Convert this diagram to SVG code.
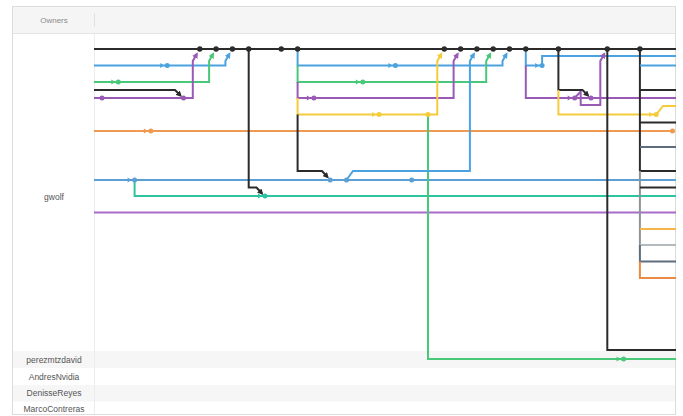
<svg xmlns="http://www.w3.org/2000/svg" width="683" height="416" viewBox="0 0 683 416">
<style>
text{font-family:"Liberation Sans",Arial,sans-serif}
.hdr{font-size:8px;fill:#8a8a8a;text-anchor:middle}
.own{font-size:8.5px;fill:#555;text-anchor:middle}
.tick{font-size:9px;fill:#777;text-anchor:middle}
.tk{stroke:#d0d0d0;stroke-width:1}
.e{fill:none;stroke-width:2;stroke-linejoin:miter}
.k{stroke:#2b2b2b}.b{stroke:#4aa3df}.b2{stroke:#5b9fd4}.g{stroke:#48c878}.p{stroke:#9b59b6}.y{stroke:#f4cb3a}.o{stroke:#ef9a50}.t{stroke:#2dc4a2}.p2{stroke:#a86cc8}
.sl{stroke:#5d6d7e}.lg{stroke:#b3babd}.mg{stroke:#8d9497}.oy{stroke:#f5b548}.or{stroke:#e98a45}
.fk{fill:#2b2b2b}.fb{fill:#4aa3df}.fb2{fill:#5b9fd4}.fg{fill:#48c878}.fp{fill:#9b59b6}.fy{fill:#f4cb3a}.fo{fill:#ef9a50}.ft{fill:#2dc4a2}
</style>
<defs>
<clipPath id="area"><rect x="94" y="33" width="582" height="382"/></clipPath>
<clipPath id="axis"><rect x="94" y="6" width="582" height="27"/></clipPath>
<marker id="mk" markerUnits="userSpaceOnUse" markerWidth="6" markerHeight="6" refX="4" refY="3" orient="auto"><path d="M0,0L6,3L0,6z" fill="#2b2b2b"/></marker>
<marker id="mb" markerUnits="userSpaceOnUse" markerWidth="6" markerHeight="6" refX="4" refY="3" orient="auto"><path d="M0,0L6,3L0,6z" fill="#4aa3df"/></marker>
<marker id="mg" markerUnits="userSpaceOnUse" markerWidth="6" markerHeight="6" refX="4" refY="3" orient="auto"><path d="M0,0L6,3L0,6z" fill="#48c878"/></marker>
<marker id="mp" markerUnits="userSpaceOnUse" markerWidth="6" markerHeight="6" refX="4" refY="3" orient="auto"><path d="M0,0L6,3L0,6z" fill="#9b59b6"/></marker>
<marker id="my" markerUnits="userSpaceOnUse" markerWidth="6" markerHeight="6" refX="4" refY="3" orient="auto"><path d="M0,0L6,3L0,6z" fill="#f4cb3a"/></marker>
<path id="ah" d="M-7,-2.6L-3,0L-7,2.6z"/>
</defs>

<g id="table">
<rect x="12.5" y="6.5" width="663" height="408" fill="#fff" stroke="#dcdcdc"/>
<rect x="13" y="7" width="662" height="26" fill="#f5f5f5"/>
<line x1="13" y1="33.5" x2="675" y2="33.5" stroke="#e4e4e4"/>
<line x1="94.5" y1="13" x2="94.5" y2="27" stroke="#e2e2e2"/>
<rect x="13" y="351" width="662" height="17" fill="#f6f6f6"/>
<rect x="13" y="385" width="662" height="16.5" fill="#f6f6f6"/>
<line x1="94.5" y1="34" x2="94.5" y2="414" stroke="#ececec"/>
<text class="hdr" x="54" y="22.5">Owners</text>
</g>

<g id="owners">
<text class="own" x="54" y="200">gwolf</text>
<text class="own" x="54" y="362.5">perezmtzdavid</text>
<text class="own" x="54" y="379.5">AndresNvidia</text>
<text class="own" x="54" y="396">DenisseReyes</text>
<text class="own" x="54" y="412">MarcoContreras</text>
</g>

<g id="axis-labels" clip-path="url(#axis)">
<line class="tk" x1="150.9" y1="34" x2="150.9" y2="38"/><text class="tick" x="150.9" y="46.5">5</text>
<line class="tk" x1="183.5" y1="34" x2="183.5" y2="38"/><text class="tick" x="183.5" y="46.5">6</text>
<line class="tk" x1="199.8" y1="34" x2="199.8" y2="38"/><text class="tick" x="199.8" y="46.5">7</text>
<line class="tk" x1="248.7" y1="34" x2="248.7" y2="38"/><text class="tick" x="248.7" y="46.5">8</text>
<line class="tk" x1="313.9" y1="34" x2="313.9" y2="38"/><text class="tick" x="313.9" y="46.5">10</text>
<line class="tk" x1="362.8" y1="34" x2="362.8" y2="38"/><text class="tick" x="362.8" y="46.5">12</text>
<line class="tk" x1="379.1" y1="34" x2="379.1" y2="38"/><text class="tick" x="379.1" y="46.5">13</text>
<line class="tk" x1="395.4" y1="34" x2="395.4" y2="38"/><text class="tick" x="395.4" y="46.5">14</text>
<line class="tk" x1="428" y1="34" x2="428" y2="38"/><text class="tick" x="428" y="46.5">15</text>
<line class="tk" x1="574.7" y1="34" x2="574.7" y2="38"/><text class="tick" x="574.7" y="46.5">16</text>
<line class="tk" x1="607.3" y1="34" x2="607.3" y2="38"/><text class="tick" x="607.3" y="46.5">17</text>
<line class="tk" x1="672.5" y1="34" x2="672.5" y2="38"/><text class="tick" x="672.5" y="46.5">18</text>
</g>

<g id="connectors" clip-path="url(#area)">
<path class="e k" d="M94 49H676"/>
<path class="e b" d="M94 65.5H225.4V61L229.4 54" marker-end="url(#mb)"/>
<path class="e g" d="M94 82H209.1V61L213.1 54" marker-end="url(#mg)"/>
<path class="e k" d="M94 90H175L180.5 95.5" marker-end="url(#mk)"/>
<path class="e p" d="M94 98H192.8V61L196.8 54" marker-end="url(#mp)"/>
<path class="e o" d="M94 131H672.5"/>
<path class="e b2" d="M94 180H676"/>
<path class="e t" d="M134.6 180V196H676"/>
<path class="e k" d="M248.7 49V187.5H256.5L262 193.5" marker-end="url(#mk)"/>
<path class="e p2" d="M94 212.5H676"/>
<path class="e b" d="M297.6 49V65.5H502.5V61L506.5 54" marker-end="url(#mb)"/>
<path class="e g" d="M297.6 65.5V82H486.2V61L490.2 54" marker-end="url(#mg)"/>
<path class="e p" d="M297.6 82V98H453.6V61L457.6 54" marker-end="url(#mp)"/>
<path class="e y" d="M297.6 98V114.5H437.3V61L441.3 54" marker-end="url(#my)"/>
<path class="e k" d="M297.6 114.5V171H322L327.5 177" marker-end="url(#mk)"/>
<path class="e g" d="M428 114.5V359H676"/>
<path class="e b" d="M346.5 180L353 171H469.9V61L473.9 54" marker-end="url(#mb)"/>
<path class="e b" d="M525.8 49V65.5H542.1V56H676"/>
<path class="e p" d="M525.8 65.5V98H676"/>
<path class="e p" d="M574.7 98L580.7 91.5V105H600.3V61L604.3 54" marker-end="url(#mp)"/>
<path class="e k" d="M558.4 49V90H582.5L588 95.5" marker-end="url(#mk)"/>
<path class="e y" d="M558.4 90V114.5H656.2L663 106H676"/>
<path class="e k" d="M607.3 49V350H676"/>
<path class="e k" d="M639.9 49V171"/>
<path class="e b" d="M639.9 65.5H676"/>
<path class="e k" d="M639.9 90H676"/>
<path class="e k" d="M639.9 122.5H676"/>
<path class="e sl" d="M639.9 147H676"/>
<path class="e k" d="M639.9 171H676"/>
<path class="e mg" d="M639.9 171V245"/>
<path class="e k" d="M639.9 187.5H676"/>
<path class="e oy" d="M639.9 229H676"/>
<path class="e lg" d="M639.9 245H676"/>
<path class="e sl" d="M639.9 245V261.5H676"/>
<path class="e or" d="M639.9 261.5V278H676"/>
<use href="#ah" class="fb" x="167.2" y="65.5"/>
<use href="#ah" class="fg" x="118.3" y="82"/>
<use href="#ah" class="fo" x="150.9" y="131"/>
<use href="#ah" class="fb2" x="134.6" y="180"/>
<use href="#ah" class="ft" x="265" y="196"/>
<use href="#ah" class="fb" x="395.4" y="65.5"/>
<use href="#ah" class="fg" x="362.8" y="82"/>
<use href="#ah" class="fp" x="313.9" y="98"/>
<use href="#ah" class="fy" x="379.1" y="114.5"/>
<use href="#ah" class="fb" x="542.1" y="65.5"/>
<use href="#ah" class="fp" x="574.7" y="98"/>
<use href="#ah" class="fy" x="656.2" y="114.5"/>
<use href="#ah" class="fg" x="623.6" y="359"/>
</g>

<g id="commits" clip-path="url(#area)">
<g id="c-main-6"><circle class="fk" cx="199.8" cy="49" r="2.7"/></g>
<g id="c-main-7"><circle class="fk" cx="216.1" cy="49" r="2.7"/></g>
<g id="c-main-8"><circle class="fk" cx="232.4" cy="49" r="2.7"/></g>
<g id="c-main-9"><circle class="fk" cx="248.7" cy="49" r="2.7"/></g>
<g id="c-main-11"><circle class="fk" cx="281.3" cy="49" r="2.7"/></g>
<g id="c-main-12"><circle class="fk" cx="297.6" cy="49" r="2.7"/></g>
<g id="c-main-21"><circle class="fk" cx="444.3" cy="49" r="2.7"/></g>
<g id="c-main-22"><circle class="fk" cx="460.6" cy="49" r="2.7"/></g>
<g id="c-main-23"><circle class="fk" cx="476.9" cy="49" r="2.7"/></g>
<g id="c-main-24"><circle class="fk" cx="493.2" cy="49" r="2.7"/></g>
<g id="c-main-25"><circle class="fk" cx="509.5" cy="49" r="2.7"/></g>
<g id="c-main-26"><circle class="fk" cx="525.8" cy="49" r="2.7"/></g>
<g id="c-main-28"><circle class="fk" cx="558.4" cy="49" r="2.7"/></g>
<g id="c-main-31"><circle class="fk" cx="607.3" cy="49" r="2.7"/></g>
<g id="c-main-33"><circle class="fk" cx="639.9" cy="49" r="2.7"/></g>
<g id="c-blue-4"><circle class="fb" cx="167.2" cy="65.5" r="2.5"/></g>
<g id="c-blue-18"><circle class="fb" cx="395.4" cy="65.5" r="2.5"/></g>
<g id="c-blue-27"><circle class="fb" cx="542.1" cy="65.5" r="2.5"/></g>
<g id="c-green-1"><circle class="fg" cx="118.3" cy="82" r="2.5"/></g>
<g id="c-green-16"><circle class="fg" cx="362.8" cy="82" r="2.5"/></g>
<g id="c-purple-0"><circle class="fp" cx="102" cy="98" r="2.5"/></g>
<g id="c-purple-5"><circle class="fp" cx="183.5" cy="98" r="2.5"/></g>
<g id="c-purple-13"><circle class="fp" cx="313.9" cy="98" r="2.5"/></g>
<g id="c-purple-29"><circle class="fp" cx="574.7" cy="98" r="2.5"/></g>
<g id="c-purple-30"><circle class="fp" cx="591" cy="98" r="2.5"/></g>
<g id="c-yellow-17"><circle class="fy" cx="379.1" cy="114.5" r="2.5"/></g>
<g id="c-yellow-20"><circle class="fy" cx="428" cy="114.5" r="2.5"/></g>
<g id="c-yellow-34"><circle class="fy" cx="656.2" cy="114.5" r="2.5"/></g>
<g id="c-orange-3"><circle class="fo" cx="150.9" cy="131" r="2.5"/></g>
<g id="c-orange-35"><circle class="fo" cx="672.5" cy="131" r="2.5"/></g>
<g id="c-blue2-2"><circle class="fb2" cx="134.6" cy="180" r="2.5"/></g>
<g id="c-blue2-14"><circle class="fb2" cx="330.2" cy="180" r="2.5"/></g>
<g id="c-blue2-15"><circle class="fb2" cx="346.5" cy="180" r="2.5"/></g>
<g id="c-blue2-19"><circle class="fb2" cx="411.7" cy="180" r="2.5"/></g>
<g id="c-teal-10"><circle class="ft" cx="265" cy="196" r="2.5"/></g>
<g id="c-green-32"><circle class="fg" cx="623.6" cy="359" r="2.5"/></g>
</g>
</svg>
